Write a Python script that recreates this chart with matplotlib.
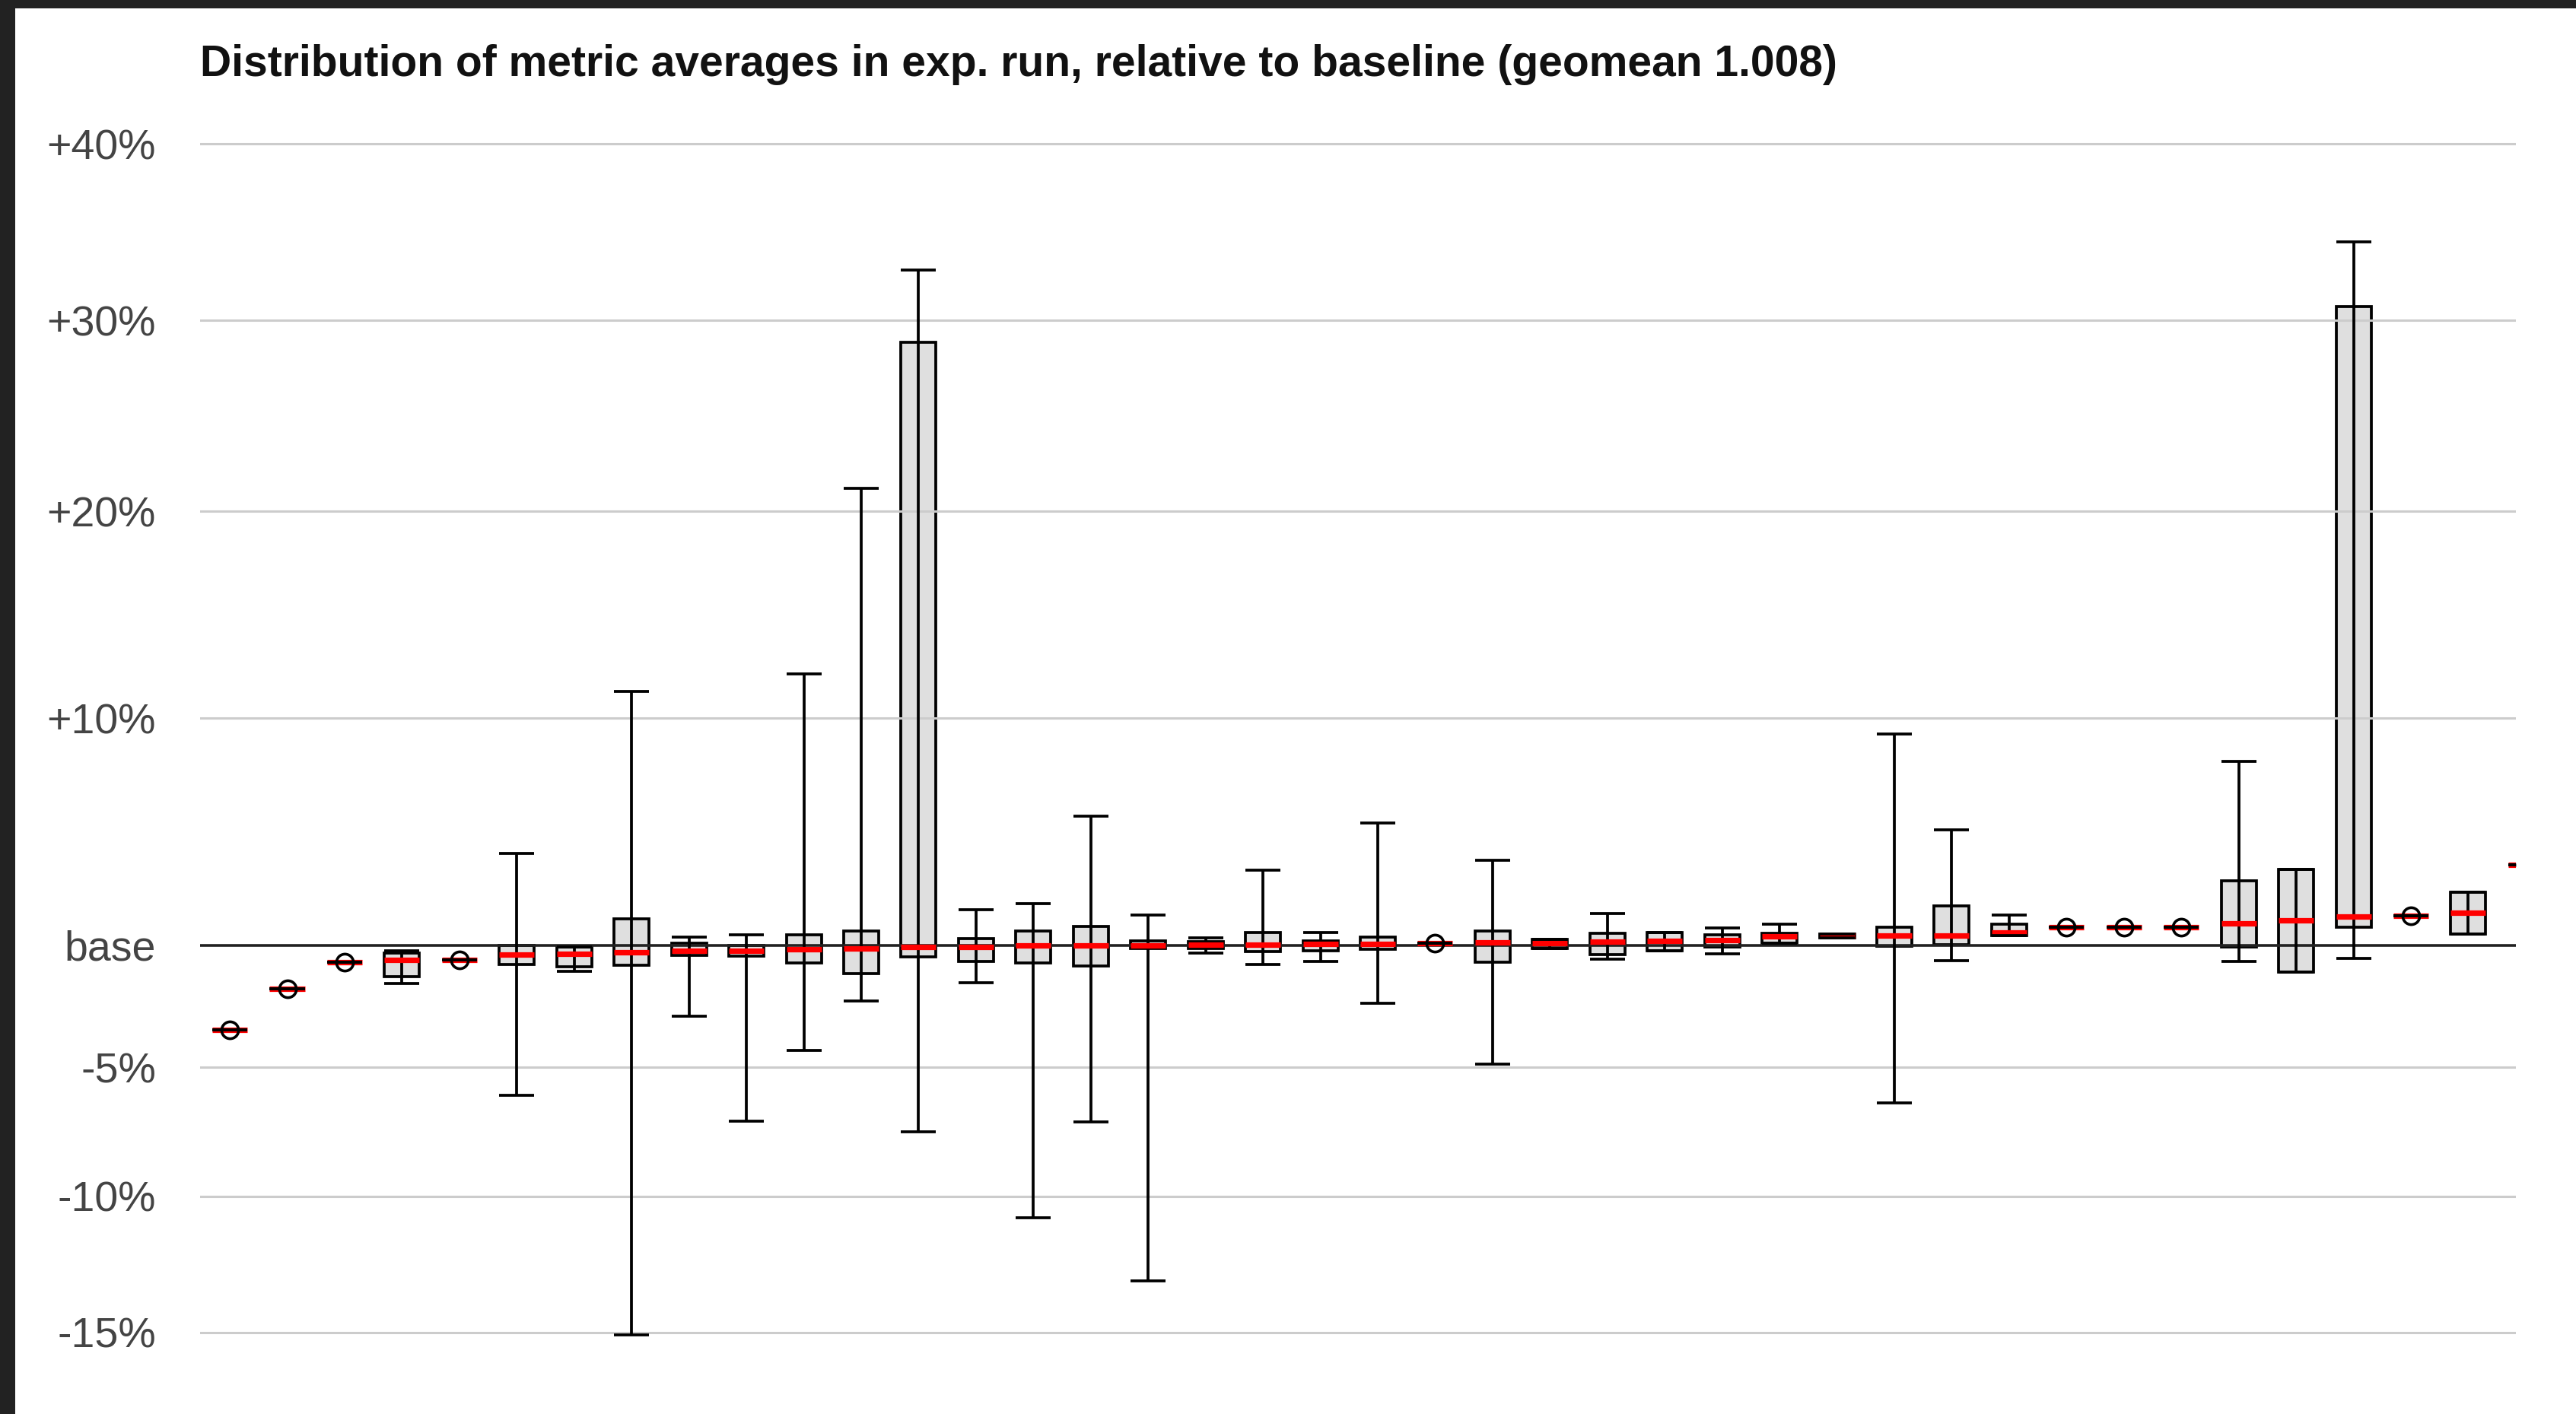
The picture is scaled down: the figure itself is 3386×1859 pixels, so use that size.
import numpy as np
import matplotlib.pyplot as plt
from matplotlib.ticker import NullLocator
from matplotlib.patches import Rectangle

plt.rcParams['font.family'] = ['Liberation Sans', 'DejaVu Sans']

# Ratios exp/baseline per metric: whisker low, q1, median, q3, whisker high
lo = [0.965, 0.982, 0.993, 0.984, 0.994, 0.939, 0.989, 0.849, 0.9707, 0.9287,
      0.9568, 0.977, 0.9247, 0.9845, 0.892, 0.9286, 0.8685, 0.9967, 0.992, 0.9932,
      0.976, 1.001, 0.9512, 0.9987, 0.9942, 0.9976, 0.9963, 1.0008, 1.0031, 0.936,
      0.9937, 1.0042, 1.0075, 1.0075, 1.0075, 0.9934, 0.9888, 0.9946, 1.0124, 1.0047, 1.0344]
q1 = [0.965, 0.982, 0.993, 0.987, 0.994, 0.992, 0.991, 0.9918, 0.9958, 0.9955,
      0.9925, 0.9882, 0.9952, 0.9934, 0.9926, 0.9913, 0.9987, 0.9987, 0.9974, 0.9976,
      0.9982, 1.001, 0.9928, 0.9987, 0.9962, 0.9976, 0.9992, 1.0008, 1.0031, 0.9995,
      1.0003, 1.0042, 1.0075, 1.0075, 1.0075, 0.9992, 0.9888, 1.0075, 1.0124, 1.0047, 1.0344]
med = [0.965, 0.982, 0.993, 0.994, 0.994, 0.996, 0.9966, 0.9971, 0.9978, 0.9978,
       0.9985, 0.9986, 0.9993, 0.9993, 1.000, 1.000, 1.000, 1.0002, 1.0004, 1.0007,
       1.0007, 1.001, 1.0013, 1.001, 1.0017, 1.0019, 1.0021, 1.0037, 1.004, 1.0042,
       1.0042, 1.0053, 1.0075, 1.0075, 1.0075, 1.0091, 1.0107, 1.0121, 1.0124, 1.0139, 1.0344]
q3 = [0.965, 0.982, 0.993, 0.9967, 0.994, 1.000, 0.9994, 1.0113, 1.001, 1.000,
      1.0043, 1.0062, 1.288, 1.0027, 1.0062, 1.0081, 1.0019, 1.0017, 1.0055, 1.0019,
      1.0035, 1.001, 1.0062, 1.0024, 1.0051, 1.0053, 1.0045, 1.0051, 1.0047, 1.0078,
      1.0167, 1.0088, 1.0075, 1.0075, 1.0075, 1.0275, 1.0324, 1.3078, 1.0124, 1.0227, 1.0344]
hi = [0.965, 0.982, 0.993, 0.9978, 0.994, 1.0395, 0.9994, 1.1124, 1.0035, 1.0043,
      1.1209, 1.2117, 1.328, 1.0151, 1.0177, 1.0556, 1.0128, 1.0031, 1.0322, 1.0053,
      1.0527, 1.001, 1.0363, 1.0024, 1.0133, 1.0053, 1.0074, 1.0088, 1.0047, 1.0927,
      1.0498, 1.0128, 1.0075, 1.0075, 1.0075, 1.0802, 1.0324, 1.3438, 1.0124, 1.0227, 1.0344]

tick_vals = [0.85, 0.9, 0.95, 1.0, 1.1, 1.2, 1.3, 1.4]
tick_labels = ['-15%', '-10%', '-5%', 'base', '+10%', '+20%', '+30%', '+40%']
title = 'Distribution of metric averages in exp. run, relative to baseline (geomean 1.008)'

lo, q1, med, q3, hi = map(np.array, (lo, q1, med, q3, hi))
x = np.arange(1, len(med) + 1)
w = 0.61
lw = 2.7

fig = plt.figure(figsize=(33.86, 18.59), dpi=100)
fig.patch.set_facecolor('#222222')
fig.add_artist(Rectangle((20 / 3386, 0), 1, 1 - 11 / 1859, transform=fig.transFigure,
                         facecolor='white', edgecolor='none', zorder=-1))

ax = fig.add_axes([0.0778, 0.0378, 0.8989, 0.8842])
ax.set_yscale('log')

# boxes
ax.bar(x, q3 - q1, bottom=q1, width=w, color='#dfdfdf', edgecolor='black',
       linewidth=lw, zorder=2)
# whiskers through the box
ax.vlines(x, lo, hi, colors='black', linewidth=lw, zorder=3)
# medians
ax.hlines(med, x - w / 2, x + w / 2, colors='red', linewidth=5.2, zorder=4)
# caps
ax.hlines(lo, x - w / 2, x + w / 2, colors='black', linewidth=lw, zorder=5)
ax.hlines(hi, x - w / 2, x + w / 2, colors='black', linewidth=lw, zorder=5)

# single-value metrics get a circle
single = (q1 == q3) & (lo == hi)
ax.plot(x[single], med[single], 'o', mfc='none', mec='black', ms=16, mew=2.6, zorder=6)

# grid + base line
for t in tick_vals:
    if t == 1.0:
        ax.axhline(t, color='#222222', linewidth=2.6, zorder=2.5)
    else:
        ax.axhline(t, color='#cccccc', linewidth=2.2, zorder=2.2)

ax.set_xlim(0.488, 40.83)
ax.set_ylim(0.84, 1.42)
ax.set_yticks(tick_vals)
ax.set_yticklabels(tick_labels)
ax.yaxis.set_minor_locator(NullLocator())
ax.set_xticks([])
ax.tick_params(axis='y', length=0, pad=42, labelsize=40, labelcolor='#444444')
for s in ax.spines.values():
    s.set_visible(False)

fig.text(263.4 / 3386, 1 - 100 / 1859, title, ha='left', va='baseline',
         fontsize=41, fontweight='bold', color='#111111')

fig.savefig('out.png', dpi=100, facecolor=fig.get_facecolor())
